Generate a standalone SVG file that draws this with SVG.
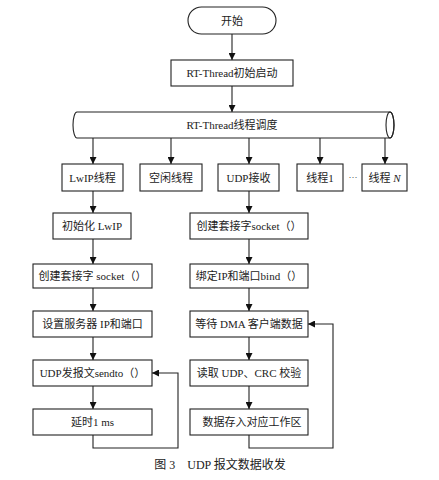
<svg xmlns="http://www.w3.org/2000/svg" width="439" height="480" viewBox="0 0 439 480">
<defs>
<marker id="ah" viewBox="0 0 10 10" refX="10" refY="5" markerWidth="7" markerHeight="7" markerUnits="userSpaceOnUse" orient="auto">
<path d="M0,0 L10,5 L0,10 Z" fill="#111"/>
</marker>
<style>
.b{fill:#fff;stroke:#222;stroke-width:1.1}
.t{font-family:"Liberation Serif","Noto Sans CJK SC",serif;font-size:11px;fill:#222;text-anchor:middle;dominant-baseline:central}
.c{fill:none;stroke:#222;stroke-width:1.1;marker-end:url(#ah)}
.l{fill:none;stroke:#222;stroke-width:1.1}
</style>
</defs>
<rect width="439" height="480" fill="#fff"/>
<g id="connectors">
<path class="c" d="M232,34 V60"/>
<path class="c" d="M232,86 V112"/>
<path class="c" d="M93,138 V164"/>
<path class="c" d="M171,138 V164"/>
<path class="c" d="M249,138 V164"/>
<path class="c" d="M320,138 V164"/>
<path class="c" d="M385,138 V164"/>
<path class="c" d="M93,191 V213"/>
<path class="c" d="M93,239 V264"/>
<path class="c" d="M93,288 V311"/>
<path class="c" d="M93,337 V360"/>
<path class="c" d="M93,386 V409"/>
<path class="c" d="M93,435 V448 H178 V373 H152"/>
<path class="c" d="M249,191 V213"/>
<path class="c" d="M249,239 V264"/>
<path class="c" d="M249,288 V311"/>
<path class="c" d="M249,337 V360"/>
<path class="c" d="M249,386 V409"/>
<path class="c" d="M249,435 V448 H333 V324 H308"/>
</g>
<g id="start"><rect class="b" x="188" y="7" width="88" height="27" rx="13.5"/><text class="t" x="232" y="20.5">开始</text></g>
<g id="init"><rect class="b" x="171" y="60" width="122" height="26"/><text class="t" x="232" y="73">RT-Thread初始启动</text></g>
<g id="sched">
<path class="b" d="M77,112 H390 A4,13 0 0 1 390,138 H77 A4,13 0 0 1 77,112 Z"/>
<ellipse cx="390" cy="125" rx="4" ry="13" class="l"/>
<text class="t" x="232" y="125">RT-Thread线程调度</text>
</g>
<g id="lwip"><rect class="b" x="62" y="164" width="61" height="27"/><text class="t" x="92.5" y="177.5">LwIP线程</text></g>
<g id="idle"><rect class="b" x="140" y="164" width="62" height="27"/><text class="t" x="171" y="177.5">空闲线程</text></g>
<g id="udprecv"><rect class="b" x="218" y="164" width="61" height="27"/><text class="t" x="248.5" y="177.5">UDP接收</text></g>
<g id="thread1"><rect class="b" x="297" y="164" width="46" height="27"/><text class="t" x="320" y="177.5">线程1</text></g>
<text class="t" x="353" y="176.5" style="font-size:9px">···</text>
<g id="threadN"><rect class="b" x="362" y="164" width="45" height="27"/><text class="t" x="384.5" y="177.5">线程 <tspan font-style="italic">N</tspan></text></g>
<g id="initlwip"><rect class="b" x="53" y="213" width="78" height="26"/><text class="t" x="92" y="226">初始化 LwIP</text></g>
<g id="sock1"><rect class="b" x="33" y="264" width="119" height="24"/><text class="t" x="92.5" y="276">创建套接字 socket（）</text></g>
<g id="setip"><rect class="b" x="33" y="311" width="119" height="26"/><text class="t" x="92.5" y="324">设置服务器 IP和端口</text></g>
<g id="sendto"><rect class="b" x="33" y="360" width="119" height="26"/><text class="t" x="92.5" y="373">UDP发报文sendto（）</text></g>
<g id="delay"><rect class="b" x="33" y="409" width="119" height="26"/><text class="t" x="92.5" y="422">延时1 ms</text></g>
<g id="sock2"><rect class="b" x="190" y="213" width="118" height="26"/><text class="t" x="249" y="226">创建套接字socket（）</text></g>
<g id="bind"><rect class="b" x="190" y="264" width="118" height="24"/><text class="t" x="249" y="276">绑定IP和端口bind（）</text></g>
<g id="wait"><rect class="b" x="190" y="311" width="118" height="26"/><text class="t" x="249" y="324">等待 DMA 客户端数据</text></g>
<g id="read"><rect class="b" x="190" y="360" width="118" height="26"/><text class="t" x="249" y="373">读取 UDP、CRC 校验</text></g>
<g id="store"><rect class="b" x="190" y="409" width="118" height="26"/><text class="t" x="252" y="422">数据存入对应工作区</text></g>
<text class="t" x="220" y="465" style="font-size:12px">图 3　UDP 报文数据收发</text>
</svg>
